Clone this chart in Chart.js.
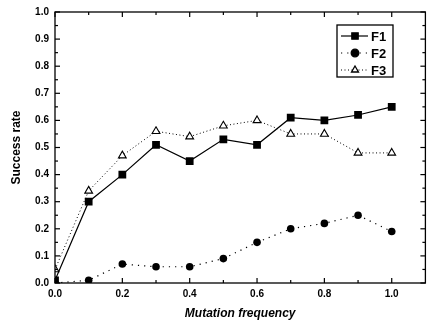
<!DOCTYPE html>
<html>
<head>
<meta charset="utf-8">
<script src="https://cdn.jsdelivr.net/npm/chart.js@4"></script>
<style>
html,body{margin:0;padding:0;background:#fff;}
#wrap{width:431px;height:325px;position:relative;}
</style>
</head>
<body>
<div id="wrap"><canvas id="c" width="431" height="325"></canvas></div>
<script>
const mutationFreq = [0.0, 0.1, 0.2, 0.3, 0.4, 0.5, 0.6, 0.7, 0.8, 0.9, 1.0];
const f1 = [0.01, 0.30, 0.40, 0.51, 0.45, 0.53, 0.51, 0.61, 0.60, 0.62, 0.65];
const f2 = [0.00, 0.01, 0.07, 0.06, 0.06, 0.09, 0.15, 0.20, 0.22, 0.25, 0.19];
const f3 = [0.05, 0.34, 0.47, 0.56, 0.54, 0.58, 0.60, 0.55, 0.55, 0.48, 0.48];
const seriesNames = ['F1', 'F2', 'F3'];
const xTickValues = [0.0, 0.2, 0.4, 0.6, 0.8, 1.0];
const xMinorTicks = [0.1, 0.3, 0.5, 0.7, 0.9];
const yTickValues = [0.0, 0.1, 0.2, 0.3, 0.4, 0.5, 0.6, 0.7, 0.8, 0.9, 1.0];
const yMinorTicks = [0.05, 0.15, 0.25, 0.35, 0.45, 0.55, 0.65, 0.75, 0.85, 0.95];

const pts = arr => mutationFreq.map((x, i) => ({x: x, y: arr[i]}));
const FONT = '"Liberation Sans", Arial, sans-serif';

const frameTicks = {
  id: 'frameTicks',
  afterDatasetsDraw(chart) {
    const {ctx, chartArea: a, scales: {x, y}} = chart;
    ctx.save();
    ctx.strokeStyle = '#000';
    ctx.lineWidth = 1.3;
    ctx.strokeRect(a.left, a.top, a.right - a.left, a.bottom - a.top);
    ctx.lineWidth = 1.2;
    const tick = (x1, y1, x2, y2) => { ctx.beginPath(); ctx.moveTo(x1, y1); ctx.lineTo(x2, y2); ctx.stroke(); };
    xTickValues.forEach(v => { const p = x.getPixelForValue(v); tick(p, a.bottom, p, a.bottom - 5); tick(p, a.top, p, a.top + 5); });
    xMinorTicks.forEach(v => { const p = x.getPixelForValue(v); tick(p, a.bottom, p, a.bottom - 3); tick(p, a.top, p, a.top + 3); });
    yTickValues.forEach(v => { const p = y.getPixelForValue(v); tick(a.left, p, a.left + 5, p); tick(a.right, p, a.right - 5, p); });
    yMinorTicks.forEach(v => { const p = y.getPixelForValue(v); tick(a.left, p, a.left + 3, p); tick(a.right, p, a.right - 3, p); });
    ctx.restore();
  }
};

const boxLegend = {
  id: 'boxLegend',
  afterDraw(chart) {
    const ctx = chart.ctx;
    const bx = 337, by = 25, bw = 56, bh = 52;
    ctx.save();
    ctx.fillStyle = '#fff';
    ctx.fillRect(bx, by, bw, bh);
    ctx.strokeStyle = '#000';
    ctx.lineWidth = 1.3;
    ctx.strokeRect(bx, by, bw, bh);
    const rows = [36, 53, 70];
    chart.data.datasets.forEach((ds, i) => {
      const yy = rows[i];
      ctx.save();
      ctx.strokeStyle = '#000';
      ctx.lineWidth = ds.borderWidth;
      ctx.setLineDash(ds.borderDash || []);
      ctx.beginPath(); ctx.moveTo(341, yy); ctx.lineTo(368, yy); ctx.stroke();
      ctx.restore();
      ctx.save();
      ctx.fillStyle = ds.pointBackgroundColor;
      ctx.strokeStyle = '#000';
      Chart.helpers.drawPoint(ctx, {pointStyle: ds.pointStyle, radius: ds.legendRadius, borderWidth: 1, rotation: 0}, 355, yy);
      ctx.restore();
      ctx.fillStyle = '#000';
      ctx.font = 'bold 13px ' + FONT;
      ctx.textBaseline = 'middle';
      ctx.textAlign = 'left';
      ctx.fillText(ds.label, 371, yy + 1);
    });
    ctx.restore();
  }
};

new Chart(document.getElementById('c'), {
  type: 'line',
  data: {
    datasets: [
      {label: seriesNames[0], data: pts(f1), borderColor: '#000', borderWidth: 1.2, pointStyle: 'rect',
       pointRadius: 5.5, legendRadius: 4.5, pointBackgroundColor: '#000', pointBorderColor: '#000', pointBorderWidth: 0},
      {label: seriesNames[1], data: pts(f2), borderColor: '#000', borderWidth: 1.2, borderDash: [1.2, 5],
       pointStyle: 'circle', pointRadius: 3.8, legendRadius: 3.8, pointBackgroundColor: '#000', pointBorderColor: '#000', pointBorderWidth: 0},
      {label: seriesNames[2], data: pts(f3), borderColor: '#000', borderWidth: 1, borderDash: [1, 2.5],
       pointStyle: 'triangle', pointRadius: 4.5, legendRadius: 4, pointBackgroundColor: '#fff', pointBorderColor: '#000', pointBorderWidth: 1.1}
    ]
  },
  options: {
    animation: false,
    responsive: false,
    layout: {padding: {top: 12, right: 2, left: 0, bottom: 0}},
    plugins: {legend: {display: false}, tooltip: {enabled: false}},
    elements: {line: {tension: 0}},
    scales: {
      x: {
        type: 'linear', min: 0, max: 1.1,
        afterBuildTicks: s => { s.ticks = xTickValues.map(v => ({value: v})); },
        afterFit: s => { s.height = 42; },
        grid: {display: false, drawTicks: false},
        border: {display: false},
        ticks: {padding: 5, color: '#000', font: {family: FONT, size: 10, weight: 'bold'},
                callback: v => v.toFixed(1), maxRotation: 0, autoSkip: false},
        title: {display: true, text: 'Mutation frequency', color: '#000',
                font: {family: FONT, size: 12, weight: 'bold', style: 'italic'}, padding: {top: 0, bottom: 4}}
      },
      y: {
        type: 'linear', min: 0, max: 1,
        afterBuildTicks: s => { s.ticks = yTickValues.map(v => ({value: v})); },
        afterFit: s => { s.width = 55; },
        grid: {display: false, drawTicks: false},
        border: {display: false},
        ticks: {padding: 6, color: '#000', font: {family: FONT, size: 10, weight: 'bold'},
                callback: v => v.toFixed(1), autoSkip: false},
        title: {display: true, text: 'Success rate', color: '#000',
                font: {family: FONT, size: 12, weight: 'bold'}, padding: {top: 9, bottom: 0}}
      }
    }
  },
  plugins: [frameTicks, boxLegend]
});
</script>
</body>
</html>
